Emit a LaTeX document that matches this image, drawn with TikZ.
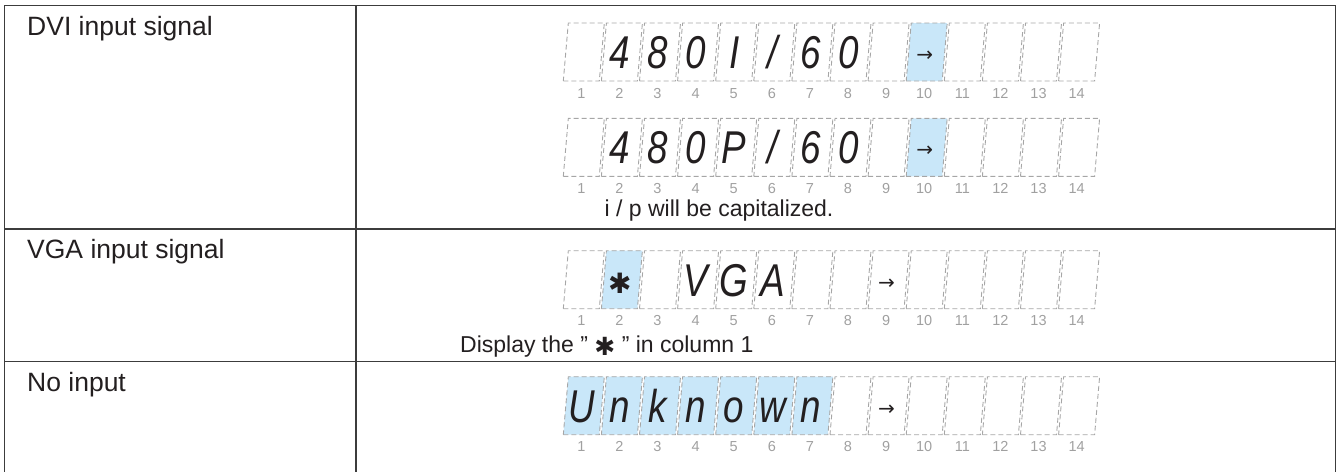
\documentclass[tikz,border=0pt]{standalone}
\usepackage{fontspec}
\setmainfont{Liberation Sans}
\newfontfamily\lcdfont[FakeStretch=0.8]{Liberation Sans}
\newfontfamily\symfont{DejaVu Sans}
\usetikzlibrary{positioning}
\definecolor{rule}{HTML}{3C3C3C}
\definecolor{cellB}{HTML}{A6A6A6}
\definecolor{cellHi}{HTML}{C9E7F9}
\definecolor{colnum}{HTML}{A0A0A0}
\definecolor{ink}{HTML}{231F20}
\newcommand\lcdarrow{\raisebox{7pt}{\symfont\fontsize{20}{20}\selectfont →}}
\newcommand\lcdstar{\raisebox{3pt}{\symfont\fontsize{28}{28}\selectfont ✱}}

\begin{document}
\begin{tikzpicture}[x=1pt,y=-1pt,cellbox/.style={draw=cellB, line width=0.9pt, dash pattern=on 5pt off 3pt},hi/.style={fill=cellHi},lo/.style={},glyph/.style={anchor=base, inner sep=0pt, text=ink, font=\lcdfont\itshape\fontsize{46}{46}\selectfont},colnum/.style={anchor=base, font=\fontsize{14.5}{16}\selectfont, text=colnum, inner sep=0pt},rowlbl/.style={font=\fontsize{26.5}{30}\selectfont, anchor=base west, inner sep=0pt, text=ink},note/.style={font=\fontsize{23}{27}\selectfont, inner sep=0pt, text=ink}]
\useasboundingbox (0,0) rectangle (1340,471);
% table rules
\draw[rule, line width=1.2pt] (4.7,490) -- (4.7,5.7) -- (1335.7,5.7) -- (1335.7,490) (356,5.7) -- (356,490);
\draw[rule, line width=1.2pt] (4.7,229) -- (1335.7,229) (4.7,361.7) -- (1335.7,361.7);
\node[rowlbl] (lblDVI) at (27,35) {DVI input signal};
\node[rowlbl] (lblVGA) at (27,258) {VGA input signal};
\node[rowlbl] (lblNone) at (27,391) {No input};
% display rows: slanted cell, character, column number
\foreach \i/\ch/\st in {1/{}/lo,2/4/lo,3/8/lo,4/0/lo,5/I/lo,6/\slash/lo,7/6/lo,8/0/lo,9/{}/lo,10/\lcdarrow/hi,11/{}/lo,12/{}/lo,13/{}/lo,14/{}/lo} {\draw[cellbox, \st] ({563.3+38.1*(\i-1)},81) -- ++(36,0) -- ++(5,-58) -- ++(-36,0) -- cycle; \node[glyph] (dviA\i) at ({581.8+38.1*(\i-1)},68.3) {\ch}; \node[colnum] (numA\i) at ({581.3+38.1*(\i-1)},98) {\i};}
\foreach \i/\ch/\st in {1/{}/lo,2/4/lo,3/8/lo,4/0/lo,5/P/lo,6/\slash/lo,7/6/lo,8/0/lo,9/{}/lo,10/\lcdarrow/hi,11/{}/lo,12/{}/lo,13/{}/lo,14/{}/lo} {\draw[cellbox, \st] ({563.3+38.1*(\i-1)},176.3) -- ++(36,0) -- ++(5,-58) -- ++(-36,0) -- cycle; \node[glyph] (dviB\i) at ({581.8+38.1*(\i-1)},163.6) {\ch}; \node[colnum] (numB\i) at ({581.3+38.1*(\i-1)},193.2) {\i};}
\foreach \i/\ch/\st in {1/{}/lo,2/\lcdstar/hi,3/{}/lo,4/V/lo,5/G/lo,6/A/lo,7/{}/lo,8/{}/lo,9/\lcdarrow/lo,10/{}/lo,11/{}/lo,12/{}/lo,13/{}/lo,14/{}/lo} {\draw[cellbox, \st] ({563.3+38.1*(\i-1)},308.7) -- ++(36,0) -- ++(5,-58) -- ++(-36,0) -- cycle; \node[glyph] (vga\i) at ({581.8+38.1*(\i-1)},296) {\ch}; \node[colnum] (numC\i) at ({581.3+38.1*(\i-1)},325.6) {\i};}
\foreach \i/\ch/\st in {1/U/hi,2/n/hi,3/k/hi,4/n/hi,5/o/hi,6/w/hi,7/n/hi,8/{}/lo,9/\lcdarrow/lo,10/{}/lo,11/{}/lo,12/{}/lo,13/{}/lo,14/{}/lo} {\draw[cellbox, \st] ({563.3+38.1*(\i-1)},434.7) -- ++(36,0) -- ++(5,-58) -- ++(-36,0) -- cycle; \node[glyph] (none\i) at ({581.8+38.1*(\i-1)},422) {\ch}; \node[colnum] (numD\i) at ({581.3+38.1*(\i-1)},451.6) {\i};}
\node[note, anchor=base] (noteCase) at (719,216) {i / p will be capitalized.};
\node[note, anchor=base west] (noteStar) at (460,352.7) {Display the ” \raisebox{-3pt}{\symfont\fontsize{25}{25}\selectfont ✱} ” in column 1};
\end{tikzpicture}
\end{document}
